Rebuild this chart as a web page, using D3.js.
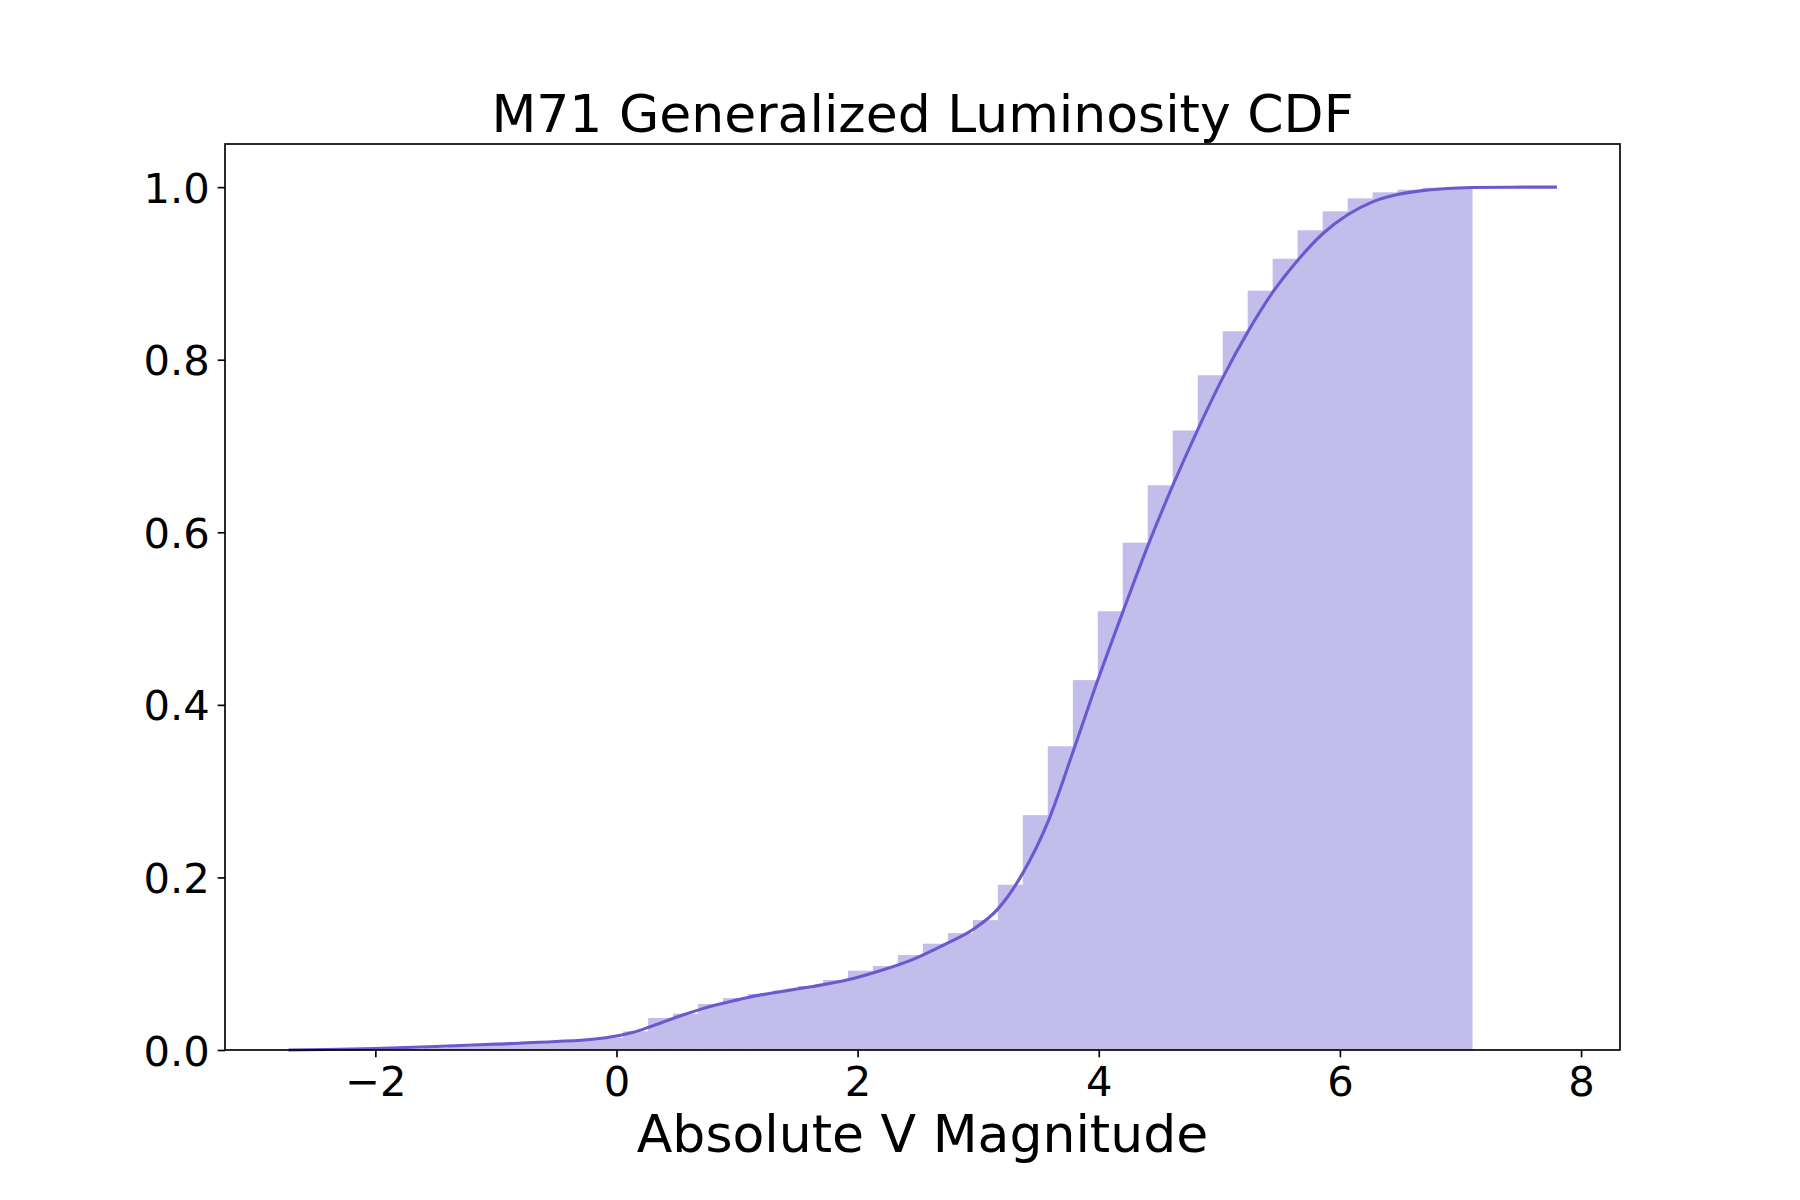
<!DOCTYPE html>
<html>
<head>
<meta charset="utf-8">
<script src="https://cdn.jsdelivr.net/npm/d3@7"></script>
<style>
  html, body { margin: 0; padding: 0; background: #ffffff; }
  svg { display: block; }
  text { font-family: "DejaVu Sans", sans-serif; fill: #000; }
</style>
</head>
<body>
<svg id="chart" width="1800" height="1200"></svg>
<script>
// ---- Data ----
const titleText = "M71 Generalized Luminosity CDF";
const xLabelText = "Absolute V Magnitude";

// histogram bin edges (absolute V magnitude)
const binEdges = [
  -2.017, -1.810, -1.602, -1.395, -1.188, -0.981, -0.774, -0.567, -0.359, -0.152,
   0.055,  0.262,  0.469,  0.677,  0.884,  1.091,  1.298,  1.505,  1.713,  1.920,
   2.127,  2.334,  2.541,  2.749,  2.956,  3.163,  3.370,  3.577,  3.785,  3.992,
   4.199,  4.406,  4.613,  4.821,  5.028,  5.235,  5.442,  5.649,  5.857,  6.064,
   6.271,  6.478,  6.685,  6.893,  7.100
];
// cumulative histogram heights, one per bin
const cumHeights = [
  0.0008, 0.0015, 0.0025, 0.0040, 0.0055, 0.0070, 0.0085, 0.0100, 0.0115, 0.0143,
  0.0216, 0.0371, 0.0421, 0.0533, 0.0602, 0.0649, 0.0691, 0.0741, 0.0811, 0.0919,
  0.0973, 0.1100, 0.1232, 0.1354, 0.1505, 0.1916, 0.2722, 0.3520, 0.4287, 0.5085,
  0.5880, 0.6545, 0.7180, 0.7820, 0.8330, 0.8800, 0.9170, 0.9500, 0.9720, 0.9870,
  0.9940, 0.9970, 0.9993, 1.0000
];
// cumulative KDE curve: magnitudes and values
const kdeX = [
  -2.72, -2.4, -2.0, -1.5, -1.0, -0.5, -0.2, 0.0, 0.14, 0.28, 0.42, 0.55, 0.69, 0.83,
   0.97, 1.10, 1.24, 1.38, 1.52, 1.63, 1.91, 2.18, 2.46, 2.74, 2.96, 3.16, 3.37, 3.58,
   3.785, 3.992, 4.199, 4.406, 4.613, 4.821, 5.028, 5.235, 5.442, 5.649, 5.857, 6.064,
   6.271, 6.478, 6.685, 6.893, 7.10, 7.40, 7.80
];
const kdeY = [
  0.0, 0.0005, 0.0018, 0.0040, 0.0068, 0.0098, 0.0125, 0.0163, 0.0205, 0.0270, 0.0340, 0.0405, 0.0468, 0.0523,
  0.0570, 0.0612, 0.0648, 0.0680, 0.0712, 0.0737, 0.0810, 0.0915, 0.1050, 0.1235, 0.1400, 0.1630, 0.2050, 0.2650,
  0.3450, 0.4287, 0.5075, 0.5840, 0.6540, 0.7190, 0.7790, 0.8320, 0.8780, 0.9150, 0.9460, 0.9680,
  0.9830, 0.9915, 0.9960, 0.9985, 0.9995, 0.99995, 1.0
];
const xTicks = [-2, 0, 2, 4, 6, 8];
const yTicks = [0.0, 0.2, 0.4, 0.6, 0.8, 1.0];
const xDomain = [-3.247, 8.323];
const yDomain = [0, 1.05];

// ---- Layout ----
const plot = { left: 225, right: 1620, top: 144, bottom: 1050 };
const lineColor = "#6a5acd";
const barColor = "#c3bdeb"; // slateblue at 40% over white

const svg = d3.select("#chart");
const x = d3.scaleLinear().domain(xDomain).range([plot.left, plot.right]);
const y = d3.scaleLinear().domain(yDomain).range([plot.bottom, plot.top]);

// histogram bars
const bins = cumHeights.map((h, i) => ({ x0: binEdges[i], x1: binEdges[i + 1], h }));
svg.append("g")
  .selectAll("rect")
  .data(bins)
  .join("rect")
  .attr("x", d => x(d.x0))
  .attr("width", (d, i) => x(d.x1) - x(d.x0) + (i < bins.length - 1 ? 0.6 : 0))
  .attr("y", d => y(d.h))
  .attr("height", d => y(0) - y(d.h))
  .attr("fill", barColor);

// KDE cumulative curve
const kdePts = kdeX.map((v, i) => [v, kdeY[i]]);
svg.append("path")
  .datum(kdePts)
  .attr("fill", "none")
  .attr("stroke", lineColor)
  .attr("stroke-width", 3.1)
  .attr("stroke-linejoin", "round")
  .attr("stroke-linecap", "butt")
  .attr("d", d3.line().x(d => x(d[0])).y(d => y(d[1])).curve(d3.curveMonotoneX));

// axes
const fmtX = d => (d < 0 ? "\u2212" + Math.abs(d) : String(d));
const xAxis = svg.append("g")
  .attr("transform", `translate(0,${plot.bottom})`)
  .call(d3.axisBottom(x).tickValues(xTicks).tickFormat(fmtX).tickSize(7.3).tickPadding(9.5));
const yAxis = svg.append("g")
  .attr("transform", `translate(${plot.left},0)`)
  .call(d3.axisLeft(y).tickValues(yTicks).tickFormat(d3.format(".1f")).tickSize(7.3).tickPadding(8));

[xAxis, yAxis].forEach(g => {
  g.select(".domain").remove();
  g.selectAll(".tick line").attr("stroke", "#000").attr("stroke-width", 1.67);
  g.selectAll(".tick text")
    .attr("font-family", "DejaVu Sans, sans-serif")
    .attr("font-size", 41.7)
    .attr("fill", "#000");
});
yAxis.selectAll(".tick text").attr("dy", "0.36em");

// frame (spines)
svg.append("rect")
  .attr("x", plot.left)
  .attr("y", plot.top)
  .attr("width", plot.right - plot.left)
  .attr("height", plot.bottom - plot.top)
  .attr("fill", "none")
  .attr("stroke", "#000")
  .attr("stroke-width", 1.67);

// title and label
svg.append("text")
  .attr("x", (plot.left + plot.right) / 2)
  .attr("y", 131.5)
  .attr("text-anchor", "middle")
  .attr("font-size", 52)
  .text(titleText);

svg.append("text")
  .attr("x", (plot.left + plot.right) / 2)
  .attr("y", 1152)
  .attr("text-anchor", "middle")
  .attr("font-size", 52)
  .text(xLabelText);
</script>
</body>
</html>
